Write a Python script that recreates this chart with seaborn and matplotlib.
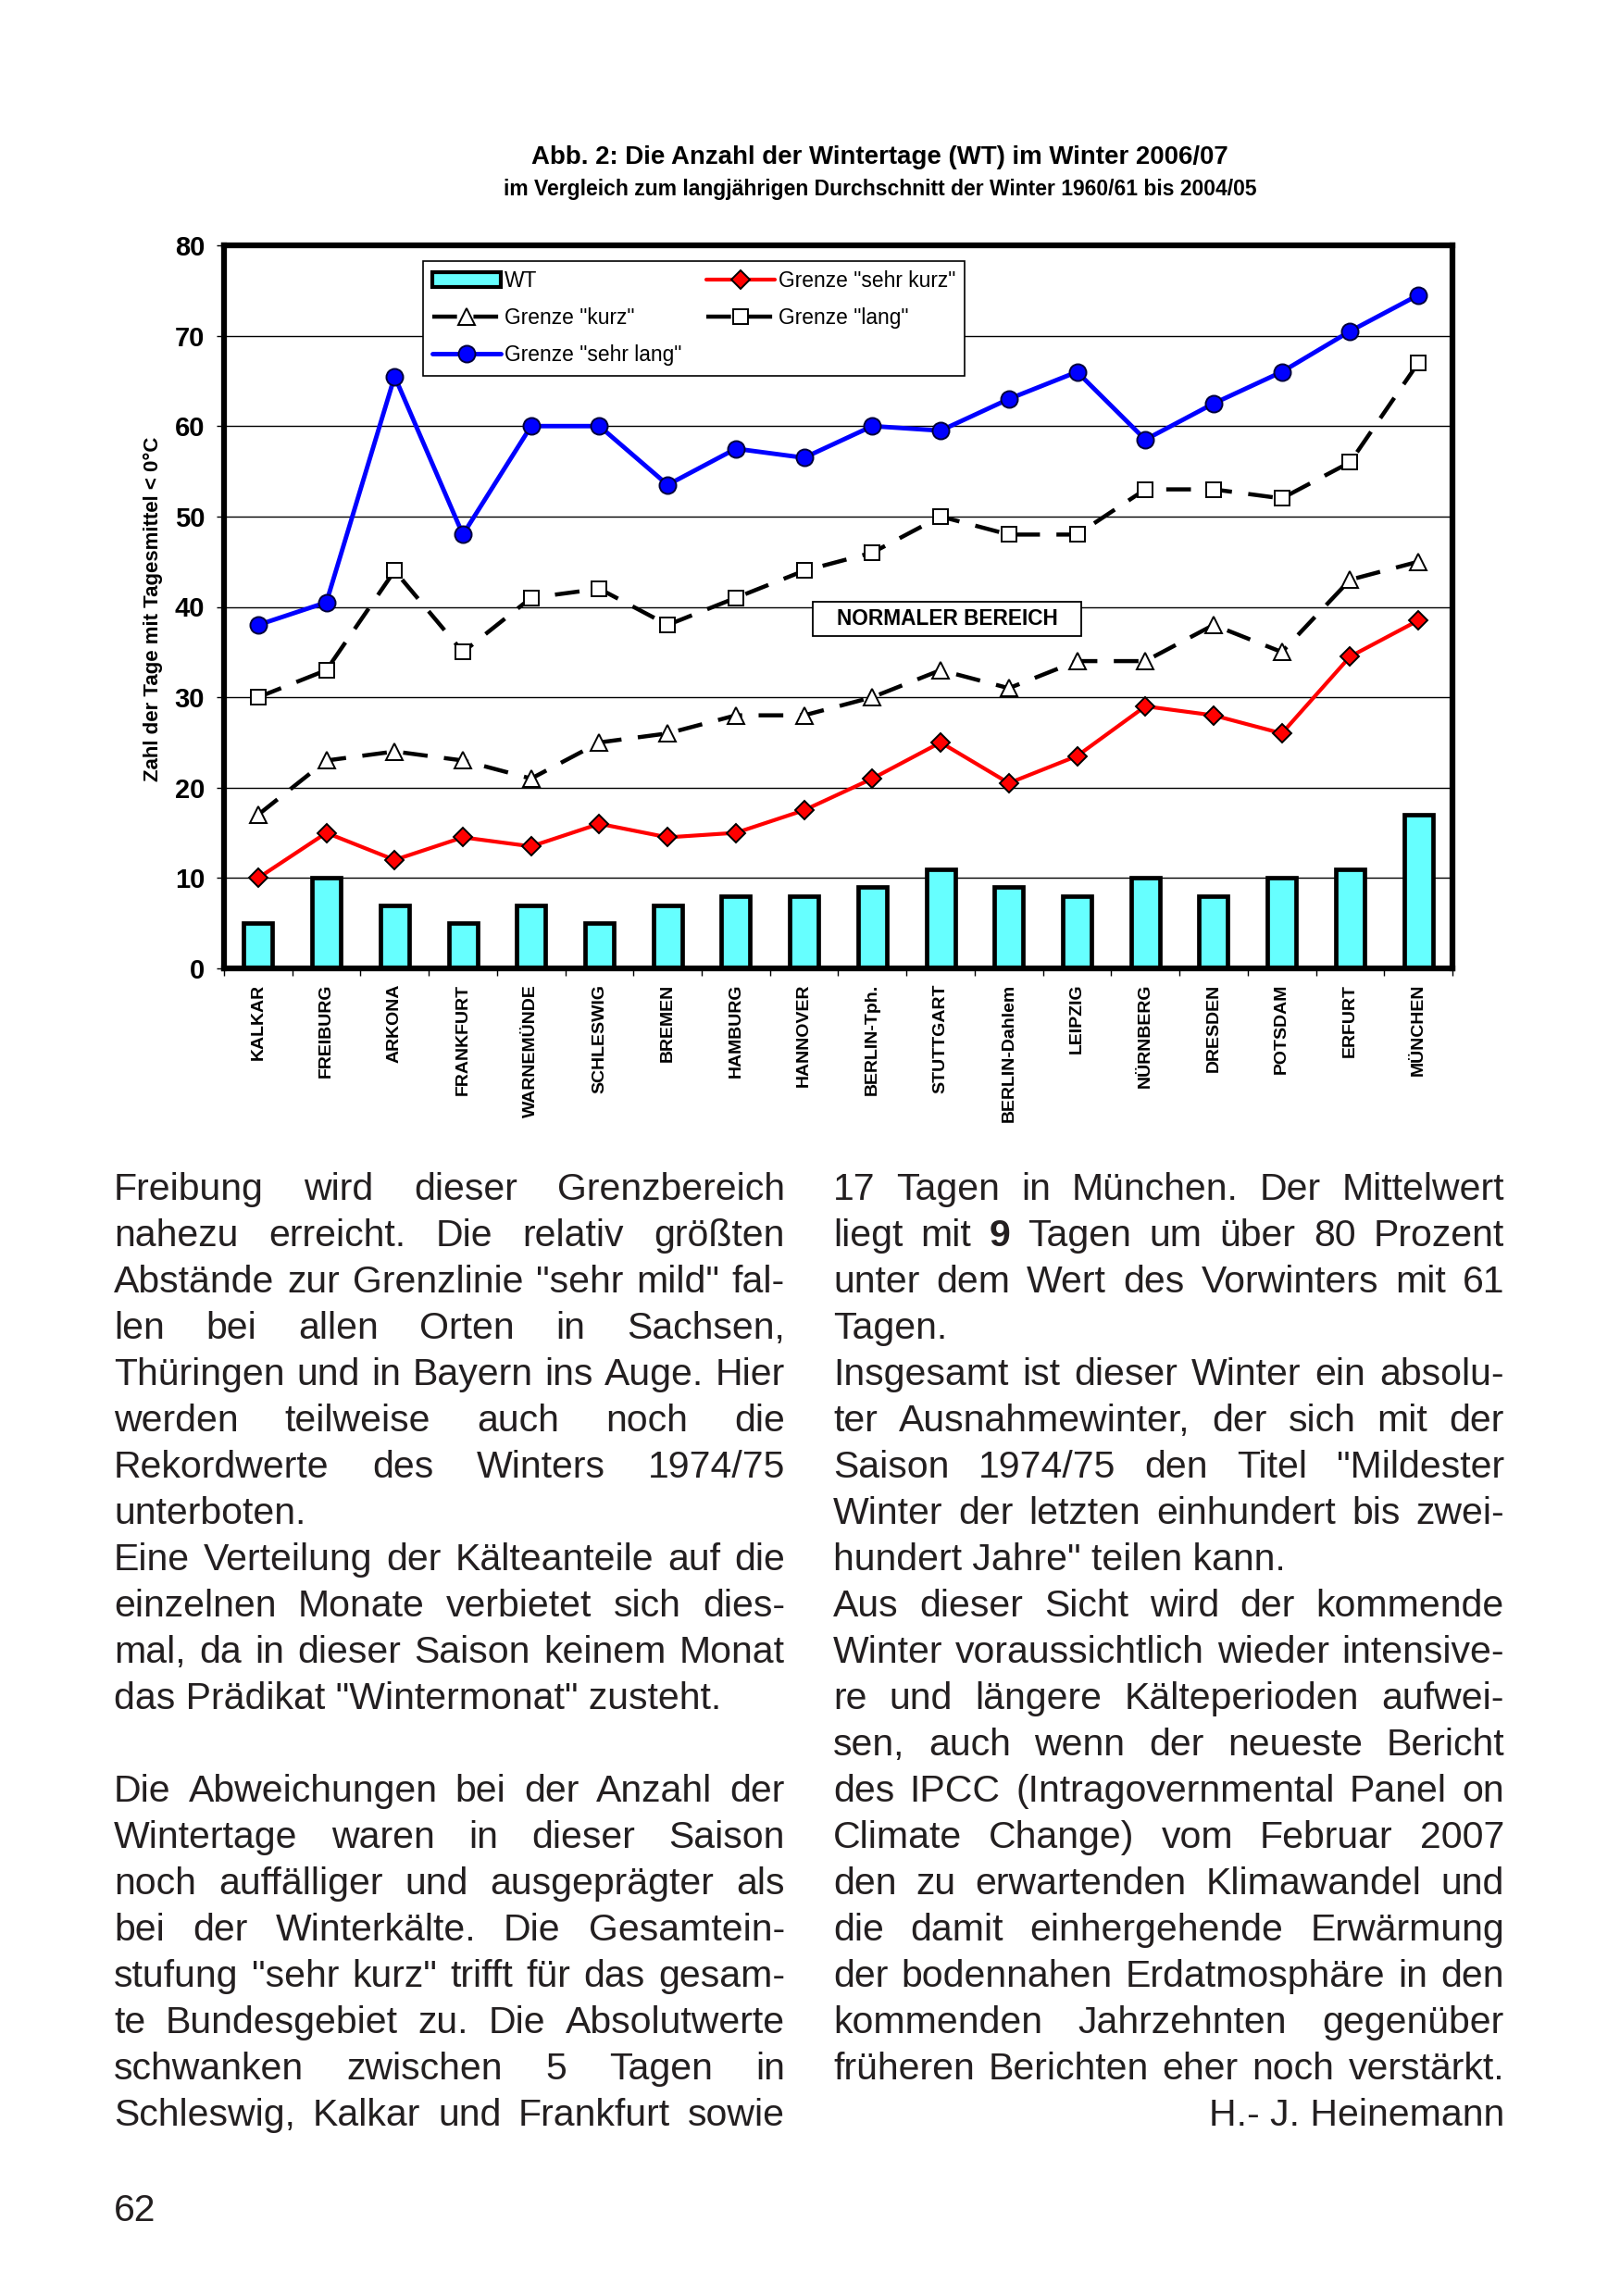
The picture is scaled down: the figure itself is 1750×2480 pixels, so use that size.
import numpy as np
import pandas as pd
import matplotlib
matplotlib.use("Agg")
import matplotlib.pyplot as plt
import seaborn as sns
from matplotlib.patches import Patch, Rectangle

W, H = 1750, 2480

# Werte
stationen = ["KALKAR", "FREIBURG", "ARKONA", "FRANKFURT", "WARNEMÜNDE", "SCHLESWIG",
             "BREMEN", "HAMBURG", "HANNOVER", "BERLIN-Tph.", "STUTTGART", "BERLIN-Dahlem",
             "LEIPZIG", "NÜRNBERG", "DRESDEN", "POTSDAM", "ERFURT", "MÜNCHEN"]
wt = [5, 10, 7, 5, 7, 5, 7, 8, 8, 9, 11, 9, 8, 10, 8, 10, 11, 17]
sehr_kurz = [10, 15, 12, 14.5, 13.5, 16, 14.5, 15, 17.5, 21, 25, 20.5, 23.5, 29, 28, 26, 34.5, 38.5]
kurz = [17, 23, 24, 23, 21, 25, 26, 28, 28, 30, 33, 31, 34, 34, 38, 35, 43, 45]
lang = [30, 33, 44, 35, 41, 42, 38, 41, 44, 46, 50, 48, 48, 53, 53, 52, 56, 67]
sehr_lang = [38, 40.5, 65.5, 48, 60, 60, 53.5, 57.5, 56.5, 60, 59.5, 63, 66, 58.5, 62.5, 66, 70.5, 74.5]

titel = "Abb. 2: Die Anzahl der Wintertage (WT) im Winter 2006/07"
untertitel = "im Vergleich zum langjährigen Durchschnitt der Winter 1960/61 bis 2004/05"
y_titel = "Zahl der Tage mit Tagesmittel < 0°C"
legende = ["WT", 'Grenze "kurz"', 'Grenze "sehr lang"', 'Grenze "sehr kurz"', 'Grenze "lang"']

# Fliesstext: j = Blocksatz, l = links, r = rechts
links = [
    ("Freibung wird dieser Grenzbereich", "j"),
    ("nahezu erreicht. Die relativ größten", "j"),
    ('Abstände zur Grenzlinie "sehr mild" fal-', "j"),
    ("len bei allen Orten in Sachsen,", "j"),
    ("Thüringen und in Bayern ins Auge. Hier", "j"),
    ("werden teilweise auch noch die", "j"),
    ("Rekordwerte des Winters 1974/75", "j"),
    ("unterboten.", "l"),
    ("Eine Verteilung der Kälteanteile auf die", "j"),
    ("einzelnen Monate verbietet sich dies-", "j"),
    ("mal, da in dieser Saison keinem Monat", "j"),
    ('das Prädikat "Wintermonat" zusteht.', "l"),
    ("", "l"),
    ("Die Abweichungen bei der Anzahl der", "j"),
    ("Wintertage waren in dieser Saison", "j"),
    ("noch auffälliger und ausgeprägter als", "j"),
    ("bei der Winterkälte. Die Gesamtein-", "j"),
    ('stufung "sehr kurz" trifft für das gesam-', "j"),
    ("te Bundesgebiet zu. Die Absolutwerte", "j"),
    ("schwanken zwischen 5 Tagen in", "j"),
    ("Schleswig, Kalkar und Frankfurt sowie", "j"),
]
rechts = [
    ("17 Tagen in München. Der Mittelwert", "j"),
    ("liegt mit *9* Tagen um über 80 Prozent", "j"),
    ("unter dem Wert des Vorwinters mit 61", "j"),
    ("Tagen.", "l"),
    ("Insgesamt ist dieser Winter ein absolu-", "j"),
    ("ter Ausnahmewinter, der sich mit der", "j"),
    ('Saison 1974/75 den Titel "Mildester', "j"),
    ("Winter der letzten einhundert bis zwei-", "j"),
    ('hundert Jahre" teilen kann.', "l"),
    ("Aus dieser Sicht wird der kommende", "j"),
    ("Winter voraussichtlich wieder intensive-", "j"),
    ("re und längere Kälteperioden aufwei-", "j"),
    ("sen, auch wenn der neueste Bericht", "j"),
    ("des IPCC (Intragovernmental Panel on", "j"),
    ("Climate Change) vom Februar 2007", "j"),
    ("den zu erwartenden Klimawandel und", "j"),
    ("die damit einhergehende Erwärmung", "j"),
    ("der bodennahen Erdatmosphäre in den", "j"),
    ("kommenden Jahrzehnten gegenüber", "j"),
    ("früheren Berichten eher noch verstärkt.", "j"),
    ("H.- J. Heinemann", "r"),
]
seitenzahl = "62"

sns.set_theme(style="white")
plt.rcParams["font.family"] = ["Liberation Sans", "DejaVu Sans"]
plt.rcParams["text.color"] = "black"
plt.rcParams["xtick.color"] = "black"
plt.rcParams["ytick.color"] = "black"
plt.rcParams["axes.labelcolor"] = "black"


def px(x, y):
    return x / W, 1 - y / H


fig = plt.figure(figsize=(W / 100, H / 100), dpi=100)
fig.patch.set_facecolor("white")
ax = fig.add_axes([242 / W, 1 - 1046 / H, (1569 - 242) / W, (1046 - 265) / H])

df = pd.DataFrame({"pos": np.arange(len(stationen)), "WT": wt})
sns.barplot(data=df, x="pos", y="WT", color="#66ffff", saturation=1, width=0.42,
            edgecolor="black", linewidth=3.4, errorbar=None, ax=ax, zorder=3)
pos = df["pos"]


def linie(werte, **kw):
    sns.lineplot(x=pos, y=werte, sort=False, errorbar=None, ax=ax, zorder=4, **kw)
    return ax.lines[-1]


gestrichelt = (0, (6, 4))
h_sk = linie(sehr_kurz, color="#ff0000", linewidth=3.0, marker="D", markersize=10.5,
             markerfacecolor="#ff0000", markeredgecolor="black", markeredgewidth=1.4)
h_k = linie(kurz, color="black", linewidth=3.2, linestyle=gestrichelt, marker="^", markersize=13,
            markerfacecolor="white", markeredgecolor="black", markeredgewidth=1.4)
h_l = linie(lang, color="black", linewidth=3.2, linestyle=gestrichelt, marker="s", markersize=11.5,
            markerfacecolor="white", markeredgecolor="black", markeredgewidth=1.4)
h_sl = linie(sehr_lang, color="#0000ff", linewidth=3.5, marker="o", markersize=13,
             markerfacecolor="#0000ff", markeredgecolor="#00003a", markeredgewidth=1.4)
h_wt = Patch(facecolor="#66ffff", edgecolor="black", linewidth=3)

ax.set_xlim(-0.5, len(stationen) - 0.5)
ax.set_ylim(0, 80)
ax.set_yticks(np.arange(0, 81, 10))
ax.set_xticks(pos, stationen, rotation=90, fontsize=14, fontweight="bold", va="top")
ax.set_xticks(np.arange(-0.5, len(stationen)), minor=True)
ax.tick_params(axis="x", which="major", length=0, pad=12, bottom=True)
ax.tick_params(axis="x", which="minor", length=6, width=1, direction="out", bottom=True)
ax.tick_params(axis="y", which="major", length=6, width=1, direction="out", pad=9,
               labelsize=21, left=True)
for t in ax.get_yticklabels():
    t.set_fontweight("bold")
ax.set_xlabel("")
ax.set_ylabel(y_titel, fontsize=16, fontweight="bold")
ax.yaxis.set_label_coords(-0.05, 0.497)

ax.set_axisbelow(True)
ax.grid(axis="y", color="black", linewidth=1)
ax.grid(axis="x", visible=False)
for s in ax.spines.values():
    s.set_visible(True)
    s.set_color("black")
    s.set_linewidth(4.5)
    s.set_zorder(6)

leg = ax.legend(handles=[h_wt, h_k, h_sl, h_sk, h_l], labels=legende, ncol=2,
                loc="upper left", bbox_to_anchor=((457 - 242) / 1327, 1 - (282 - 265) / 781),
                borderaxespad=0, fontsize=16.4, frameon=True, fancybox=False, framealpha=1,
                edgecolor="black", handlelength=3.25, handletextpad=0.15, columnspacing=1.2,
                labelspacing=0.75, borderpad=0.45)
leg.get_frame().set_linewidth(1.2)
leg.set_zorder(8)

# Kasten "NORMALER BEREICH"
ax.add_patch(Rectangle((0.479, 0.4597), 0.219, 0.0474, transform=ax.transAxes,
                       facecolor="white", edgecolor="black", linewidth=1.3, zorder=7))
ax.text(0.5885, 0.4834, "NORMALER BEREICH", transform=ax.transAxes, ha="center",
        va="center", fontsize=16.3, fontweight="bold", zorder=8)

fig.text(*px(950, 170), titel, ha="center", va="center", fontsize=19.9, fontweight="bold")
fig.text(*px(951, 204), untertitel, ha="center", va="center", fontsize=16.5, fontweight="bold")

# Fliesstext in zwei Spalten
renderer = fig.canvas.get_renderer()
textfarbe = "#231f20"
groesse = 29.5


def zeile(text, x0, x1, y, modus):
    if not text:
        return
    if modus == "l":
        fig.text(*px(x0, y), text, fontsize=groesse, color=textfarbe, va="baseline", ha="left")
        return
    if modus == "r":
        fig.text(*px(x1, y), text, fontsize=groesse, color=textfarbe, va="baseline", ha="right")
        return
    objs = []
    for w in text.split():
        fett = w.startswith("*")
        objs.append(fig.text(*px(x0, y), w.strip("*"), fontsize=groesse, color=textfarbe,
                             va="baseline", ha="left",
                             fontweight="bold" if fett else "normal"))
    breiten = [t.get_window_extent(renderer).width for t in objs]
    luecke = (x1 - x0 - sum(breiten)) / max(len(objs) - 1, 1)
    x = x0
    for t, b in zip(objs, breiten):
        t.set_x(x / W)
        x += b + luecke


y0, dy = 1296, 50.0
for i, (text, modus) in enumerate(links):
    zeile(text, 123, 848, y0 + i * dy, modus)
for i, (text, modus) in enumerate(rechts):
    zeile(text, 900, 1625, y0 + i * dy, modus)

fig.text(*px(123, 2399), seitenzahl, fontsize=groesse, color=textfarbe, va="baseline", ha="left")

fig.savefig("out.png", dpi=100, facecolor="white")
